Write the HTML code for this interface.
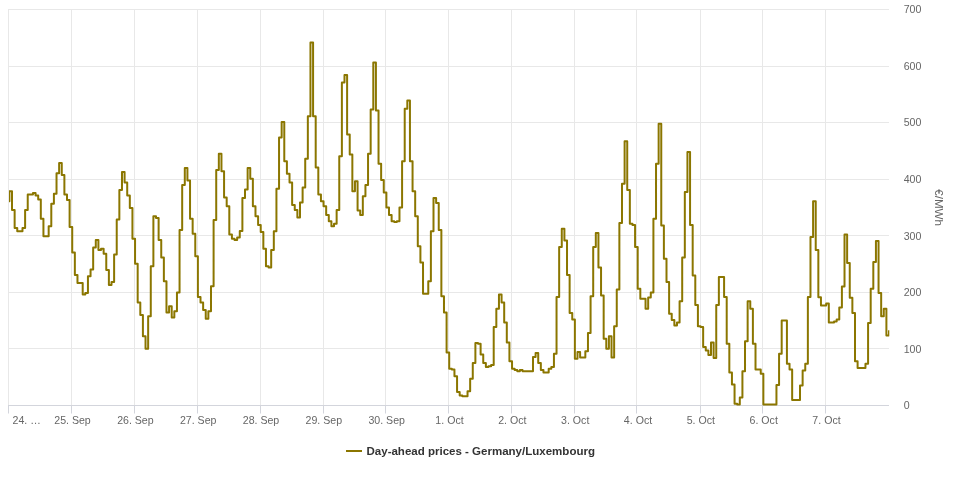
<!DOCTYPE html>
<html><head><meta charset="utf-8"><style>
html,body{margin:0;padding:0;background:#fff;}
svg{display:block;will-change:transform;font-family:"Liberation Sans",sans-serif;}
</style></head><body>
<svg width="960" height="480" viewBox="0 0 960 480">
<rect x="0" y="0" width="960" height="480" fill="#ffffff"/>
<g><path d="M 8.5 9 L 8.5 405" stroke="#e8e8e8" stroke-width="1"/><path d="M 71.5 9 L 71.5 405" stroke="#e8e8e8" stroke-width="1"/><path d="M 134.5 9 L 134.5 405" stroke="#e8e8e8" stroke-width="1"/><path d="M 197.5 9 L 197.5 405" stroke="#e8e8e8" stroke-width="1"/><path d="M 260.5 9 L 260.5 405" stroke="#e8e8e8" stroke-width="1"/><path d="M 323.5 9 L 323.5 405" stroke="#e8e8e8" stroke-width="1"/><path d="M 385.5 9 L 385.5 405" stroke="#e8e8e8" stroke-width="1"/><path d="M 448.5 9 L 448.5 405" stroke="#e8e8e8" stroke-width="1"/><path d="M 511.5 9 L 511.5 405" stroke="#e8e8e8" stroke-width="1"/><path d="M 574.5 9 L 574.5 405" stroke="#e8e8e8" stroke-width="1"/><path d="M 636.5 9 L 636.5 405" stroke="#e8e8e8" stroke-width="1"/><path d="M 700.5 9 L 700.5 405" stroke="#e8e8e8" stroke-width="1"/><path d="M 762.5 9 L 762.5 405" stroke="#e8e8e8" stroke-width="1"/><path d="M 825.5 9 L 825.5 405" stroke="#e8e8e8" stroke-width="1"/></g>
<g><path d="M 9 9.5 L 889 9.5" stroke="#e8e8e8" stroke-width="1"/><path d="M 9 66.5 L 889 66.5" stroke="#e8e8e8" stroke-width="1"/><path d="M 9 122.5 L 889 122.5" stroke="#e8e8e8" stroke-width="1"/><path d="M 9 179.5 L 889 179.5" stroke="#e8e8e8" stroke-width="1"/><path d="M 9 235.5 L 889 235.5" stroke="#e8e8e8" stroke-width="1"/><path d="M 9 292.5 L 889 292.5" stroke="#e8e8e8" stroke-width="1"/><path d="M 9 348.5 L 889 348.5" stroke="#e8e8e8" stroke-width="1"/></g>
<path d="M 9 405.5 L 889 405.5" stroke="#d3d5dc" stroke-width="1"/>
<g><path d="M 8.5 405 L 8.5 413.5" stroke="#d3d5dc" stroke-width="1"/><path d="M 71.5 405 L 71.5 413.5" stroke="#d3d5dc" stroke-width="1"/><path d="M 134.5 405 L 134.5 413.5" stroke="#d3d5dc" stroke-width="1"/><path d="M 197.5 405 L 197.5 413.5" stroke="#d3d5dc" stroke-width="1"/><path d="M 260.5 405 L 260.5 413.5" stroke="#d3d5dc" stroke-width="1"/><path d="M 323.5 405 L 323.5 413.5" stroke="#d3d5dc" stroke-width="1"/><path d="M 385.5 405 L 385.5 413.5" stroke="#d3d5dc" stroke-width="1"/><path d="M 448.5 405 L 448.5 413.5" stroke="#d3d5dc" stroke-width="1"/><path d="M 511.5 405 L 511.5 413.5" stroke="#d3d5dc" stroke-width="1"/><path d="M 574.5 405 L 574.5 413.5" stroke="#d3d5dc" stroke-width="1"/><path d="M 636.5 405 L 636.5 413.5" stroke="#d3d5dc" stroke-width="1"/><path d="M 700.5 405 L 700.5 413.5" stroke="#d3d5dc" stroke-width="1"/><path d="M 762.5 405 L 762.5 413.5" stroke="#d3d5dc" stroke-width="1"/><path d="M 825.5 405 L 825.5 413.5" stroke="#d3d5dc" stroke-width="1"/></g>
<g fill="#666666" font-size="10.6"><text x="12.5" y="423.6" text-anchor="start">24. …</text><text x="72.5" y="423.6" text-anchor="middle">25. Sep</text><text x="135.4" y="423.6" text-anchor="middle">26. Sep</text><text x="198.2" y="423.6" text-anchor="middle">27. Sep</text><text x="261.0" y="423.6" text-anchor="middle">28. Sep</text><text x="323.8" y="423.6" text-anchor="middle">29. Sep</text><text x="386.7" y="423.6" text-anchor="middle">30. Sep</text><text x="449.5" y="423.6" text-anchor="middle">1. Oct</text><text x="512.3" y="423.6" text-anchor="middle">2. Oct</text><text x="575.2" y="423.6" text-anchor="middle">3. Oct</text><text x="638.0" y="423.6" text-anchor="middle">4. Oct</text><text x="700.8" y="423.6" text-anchor="middle">5. Oct</text><text x="763.7" y="423.6" text-anchor="middle">6. Oct</text><text x="826.5" y="423.6" text-anchor="middle">7. Oct</text></g>
<g fill="#666666" font-size="10.6"><text x="903.7" y="13.3" text-anchor="start">700</text><text x="903.7" y="69.9" text-anchor="start">600</text><text x="903.7" y="126.4" text-anchor="start">500</text><text x="903.7" y="183.0" text-anchor="start">400</text><text x="903.7" y="239.6" text-anchor="start">300</text><text x="903.7" y="296.2" text-anchor="start">200</text><text x="903.7" y="352.7" text-anchor="start">100</text><text x="903.7" y="409.3" text-anchor="start">0</text></g>
<text x="935" y="207.6" fill="#666666" font-size="11.6" text-anchor="middle" transform="rotate(90 935 207.6)">€/MWh</text>
<defs><clipPath id="pc"><rect x="9" y="0" width="880.3" height="420"/></clipPath></defs>
<path clip-path="url(#pc)" d="M 9.40 201.25 L 9.40 191.25 L 12.02 191.25 L 12.02 210.00 L 14.64 210.00 L 14.64 228.00 L 17.25 228.00 L 17.25 231.25 L 19.87 231.25 L 19.87 231.25 L 22.49 231.25 L 22.49 228.00 L 25.11 228.00 L 25.11 210.00 L 27.73 210.00 L 27.73 194.50 L 30.34 194.50 L 30.34 194.50 L 32.96 194.50 L 32.96 193.00 L 35.58 193.00 L 35.58 195.50 L 38.20 195.50 L 38.20 199.50 L 40.81 199.50 L 40.81 218.75 L 43.43 218.75 L 43.43 236.25 L 46.05 236.25 L 46.05 236.25 L 48.67 236.25 L 48.67 226.25 L 51.29 226.25 L 51.29 203.75 L 53.90 203.75 L 53.90 193.75 L 56.52 193.75 L 56.52 173.25 L 59.14 173.25 L 59.14 163.00 L 61.76 163.00 L 61.76 175.00 L 64.38 175.00 L 64.38 194.50 L 66.99 194.50 L 66.99 200.00 L 69.61 200.00 L 69.61 227.00 L 72.23 227.00 L 72.23 252.50 L 74.85 252.50 L 74.85 275.00 L 77.47 275.00 L 77.47 283.00 L 80.08 283.00 L 80.08 283.00 L 82.70 283.00 L 82.70 294.50 L 85.32 294.50 L 85.32 293.00 L 87.94 293.00 L 87.94 276.25 L 90.56 276.25 L 90.56 269.50 L 93.17 269.50 L 93.17 247.50 L 95.79 247.50 L 95.79 240.00 L 98.41 240.00 L 98.41 250.00 L 101.03 250.00 L 101.03 248.75 L 103.64 248.75 L 103.64 253.75 L 106.26 253.75 L 106.26 270.00 L 108.88 270.00 L 108.88 285.00 L 111.50 285.00 L 111.50 282.00 L 114.12 282.00 L 114.12 254.50 L 116.73 254.50 L 116.73 219.50 L 119.35 219.50 L 119.35 190.00 L 121.97 190.00 L 121.97 172.00 L 124.59 172.00 L 124.59 182.50 L 127.21 182.50 L 127.21 195.50 L 129.82 195.50 L 129.82 208.00 L 132.44 208.00 L 132.44 238.75 L 135.06 238.75 L 135.06 263.75 L 137.68 263.75 L 137.68 302.50 L 140.30 302.50 L 140.30 315.00 L 142.91 315.00 L 142.91 336.25 L 145.53 336.25 L 145.53 348.75 L 148.15 348.75 L 148.15 316.25 L 150.77 316.25 L 150.77 266.25 L 153.39 266.25 L 153.39 216.25 L 156.00 216.25 L 156.00 218.00 L 158.62 218.00 L 158.62 240.00 L 161.24 240.00 L 161.24 257.50 L 163.86 257.50 L 163.86 281.25 L 166.47 281.25 L 166.47 312.50 L 169.09 312.50 L 169.09 306.25 L 171.71 306.25 L 171.71 317.50 L 174.33 317.50 L 174.33 311.25 L 176.95 311.25 L 176.95 292.50 L 179.56 292.50 L 179.56 230.00 L 182.18 230.00 L 182.18 185.00 L 184.80 185.00 L 184.80 168.00 L 187.42 168.00 L 187.42 180.50 L 190.04 180.50 L 190.04 218.75 L 192.65 218.75 L 192.65 233.75 L 195.27 233.75 L 195.27 256.25 L 197.89 256.25 L 197.89 297.00 L 200.51 297.00 L 200.51 302.50 L 203.13 302.50 L 203.13 310.00 L 205.74 310.00 L 205.74 318.75 L 208.36 318.75 L 208.36 311.25 L 210.98 311.25 L 210.98 286.25 L 213.60 286.25 L 213.60 220.00 L 216.22 220.00 L 216.22 170.00 L 218.83 170.00 L 218.83 153.75 L 221.45 153.75 L 221.45 171.25 L 224.07 171.25 L 224.07 197.50 L 226.69 197.50 L 226.69 206.25 L 229.30 206.25 L 229.30 234.50 L 231.92 234.50 L 231.92 238.75 L 234.54 238.75 L 234.54 240.00 L 237.16 240.00 L 237.16 237.50 L 239.78 237.50 L 239.78 231.00 L 242.39 231.00 L 242.39 198.00 L 245.01 198.00 L 245.01 189.50 L 247.63 189.50 L 247.63 168.00 L 250.25 168.00 L 250.25 178.75 L 252.87 178.75 L 252.87 206.25 L 255.48 206.25 L 255.48 216.25 L 258.10 216.25 L 258.10 225.00 L 260.72 225.00 L 260.72 232.00 L 263.34 232.00 L 263.34 248.75 L 265.96 248.75 L 265.96 266.25 L 268.57 266.25 L 268.57 267.50 L 271.19 267.50 L 271.19 250.00 L 273.81 250.00 L 273.81 231.25 L 276.43 231.25 L 276.43 188.75 L 279.05 188.75 L 279.05 137.50 L 281.66 137.50 L 281.66 122.00 L 284.28 122.00 L 284.28 161.25 L 286.90 161.25 L 286.90 173.75 L 289.52 173.75 L 289.52 182.50 L 292.13 182.50 L 292.13 205.00 L 294.75 205.00 L 294.75 210.00 L 297.37 210.00 L 297.37 217.50 L 299.99 217.50 L 299.99 202.50 L 302.61 202.50 L 302.61 187.50 L 305.22 187.50 L 305.22 158.75 L 307.84 158.75 L 307.84 116.25 L 310.46 116.25 L 310.46 42.50 L 313.08 42.50 L 313.08 116.25 L 315.70 116.25 L 315.70 167.50 L 318.31 167.50 L 318.31 194.50 L 320.93 194.50 L 320.93 201.25 L 323.55 201.25 L 323.55 206.25 L 326.17 206.25 L 326.17 215.00 L 328.79 215.00 L 328.79 221.25 L 331.40 221.25 L 331.40 226.25 L 334.02 226.25 L 334.02 223.75 L 336.64 223.75 L 336.64 210.00 L 339.26 210.00 L 339.26 156.25 L 341.88 156.25 L 341.88 82.50 L 344.49 82.50 L 344.49 75.00 L 347.11 75.00 L 347.11 134.50 L 349.73 134.50 L 349.73 154.50 L 352.35 154.50 L 352.35 191.25 L 354.96 191.25 L 354.96 181.25 L 357.58 181.25 L 357.58 210.50 L 360.20 210.50 L 360.20 215.00 L 362.82 215.00 L 362.82 196.25 L 365.44 196.25 L 365.44 185.00 L 368.05 185.00 L 368.05 153.75 L 370.67 153.75 L 370.67 109.50 L 373.29 109.50 L 373.29 62.50 L 375.91 62.50 L 375.91 110.50 L 378.53 110.50 L 378.53 163.75 L 381.14 163.75 L 381.14 180.00 L 383.76 180.00 L 383.76 192.50 L 386.38 192.50 L 386.38 207.50 L 389.00 207.50 L 389.00 215.00 L 391.62 215.00 L 391.62 221.25 L 394.23 221.25 L 394.23 222.00 L 396.85 222.00 L 396.85 221.25 L 399.47 221.25 L 399.47 207.50 L 402.09 207.50 L 402.09 161.25 L 404.71 161.25 L 404.71 108.75 L 407.32 108.75 L 407.32 100.50 L 409.94 100.50 L 409.94 161.25 L 412.56 161.25 L 412.56 191.25 L 415.18 191.25 L 415.18 216.25 L 417.79 216.25 L 417.79 246.25 L 420.41 246.25 L 420.41 262.50 L 423.03 262.50 L 423.03 293.75 L 425.65 293.75 L 425.65 293.75 L 428.27 293.75 L 428.27 281.25 L 430.88 281.25 L 430.88 231.25 L 433.50 231.25 L 433.50 198.00 L 436.12 198.00 L 436.12 203.00 L 438.74 203.00 L 438.74 230.00 L 441.36 230.00 L 441.36 296.25 L 443.97 296.25 L 443.97 312.50 L 446.59 312.50 L 446.59 352.50 L 449.21 352.50 L 449.21 368.75 L 451.83 368.75 L 451.83 369.50 L 454.45 369.50 L 454.45 376.25 L 457.06 376.25 L 457.06 392.00 L 459.68 392.00 L 459.68 395.50 L 462.30 395.50 L 462.30 396.25 L 464.92 396.25 L 464.92 396.25 L 467.54 396.25 L 467.54 391.25 L 470.15 391.25 L 470.15 378.75 L 472.77 378.75 L 472.77 363.00 L 475.39 363.00 L 475.39 343.00 L 478.01 343.00 L 478.01 343.75 L 480.62 343.75 L 480.62 354.50 L 483.24 354.50 L 483.24 363.00 L 485.86 363.00 L 485.86 367.00 L 488.48 367.00 L 488.48 366.25 L 491.10 366.25 L 491.10 365.00 L 493.71 365.00 L 493.71 327.00 L 496.33 327.00 L 496.33 308.75 L 498.95 308.75 L 498.95 294.50 L 501.57 294.50 L 501.57 302.50 L 504.19 302.50 L 504.19 322.50 L 506.80 322.50 L 506.80 342.50 L 509.42 342.50 L 509.42 361.25 L 512.04 361.25 L 512.04 368.75 L 514.66 368.75 L 514.66 370.00 L 517.28 370.00 L 517.28 371.25 L 519.89 371.25 L 519.89 370.00 L 522.51 370.00 L 522.51 371.25 L 525.13 371.25 L 525.13 371.25 L 527.75 371.25 L 527.75 371.25 L 530.37 371.25 L 530.37 371.25 L 532.98 371.25 L 532.98 357.00 L 535.60 357.00 L 535.60 353.00 L 538.22 353.00 L 538.22 363.00 L 540.84 363.00 L 540.84 370.00 L 543.45 370.00 L 543.45 372.50 L 546.07 372.50 L 546.07 372.50 L 548.69 372.50 L 548.69 368.75 L 551.31 368.75 L 551.31 367.00 L 553.93 367.00 L 553.93 353.75 L 556.54 353.75 L 556.54 297.00 L 559.16 297.00 L 559.16 247.00 L 561.78 247.00 L 561.78 228.75 L 564.40 228.75 L 564.40 240.50 L 567.02 240.50 L 567.02 275.00 L 569.63 275.00 L 569.63 313.00 L 572.25 313.00 L 572.25 319.50 L 574.87 319.50 L 574.87 358.75 L 577.49 358.75 L 577.49 352.00 L 580.11 352.00 L 580.11 357.50 L 582.72 357.50 L 582.72 357.50 L 585.34 357.50 L 585.34 351.25 L 587.96 351.25 L 587.96 333.00 L 590.58 333.00 L 590.58 296.25 L 593.20 296.25 L 593.20 247.00 L 595.81 247.00 L 595.81 233.00 L 598.43 233.00 L 598.43 267.50 L 601.05 267.50 L 601.05 295.50 L 603.67 295.50 L 603.67 338.75 L 606.28 338.75 L 606.28 348.75 L 608.90 348.75 L 608.90 336.25 L 611.52 336.25 L 611.52 357.50 L 614.14 357.50 L 614.14 326.25 L 616.76 326.25 L 616.76 289.50 L 619.37 289.50 L 619.37 223.00 L 621.99 223.00 L 621.99 183.75 L 624.61 183.75 L 624.61 141.25 L 627.23 141.25 L 627.23 190.00 L 629.85 190.00 L 629.85 223.75 L 632.46 223.75 L 632.46 225.00 L 635.08 225.00 L 635.08 247.00 L 637.70 247.00 L 637.70 288.75 L 640.32 288.75 L 640.32 298.75 L 642.94 298.75 L 642.94 298.75 L 645.55 298.75 L 645.55 308.75 L 648.17 308.75 L 648.17 297.50 L 650.79 297.50 L 650.79 292.50 L 653.41 292.50 L 653.41 218.75 L 656.03 218.75 L 656.03 163.75 L 658.64 163.75 L 658.64 123.75 L 661.26 123.75 L 661.26 225.50 L 663.88 225.50 L 663.88 258.75 L 666.50 258.75 L 666.50 282.00 L 669.11 282.00 L 669.11 313.75 L 671.73 313.75 L 671.73 320.00 L 674.35 320.00 L 674.35 325.50 L 676.97 325.50 L 676.97 322.50 L 679.59 322.50 L 679.59 301.25 L 682.20 301.25 L 682.20 257.50 L 684.82 257.50 L 684.82 192.00 L 687.44 192.00 L 687.44 152.00 L 690.06 152.00 L 690.06 225.00 L 692.68 225.00 L 692.68 275.50 L 695.29 275.50 L 695.29 305.00 L 697.91 305.00 L 697.91 326.25 L 700.53 326.25 L 700.53 327.00 L 703.15 327.00 L 703.15 347.00 L 705.77 347.00 L 705.77 350.50 L 708.38 350.50 L 708.38 355.00 L 711.00 355.00 L 711.00 342.50 L 713.62 342.50 L 713.62 358.00 L 716.24 358.00 L 716.24 305.00 L 718.86 305.00 L 718.86 277.00 L 721.47 277.00 L 721.47 277.00 L 724.09 277.00 L 724.09 297.00 L 726.71 297.00 L 726.71 343.75 L 729.33 343.75 L 729.33 372.50 L 731.94 372.50 L 731.94 384.50 L 734.56 384.50 L 734.56 403.75 L 737.18 403.75 L 737.18 404.50 L 739.80 404.50 L 739.80 397.50 L 742.42 397.50 L 742.42 371.25 L 745.03 371.25 L 745.03 341.25 L 747.65 341.25 L 747.65 301.25 L 750.27 301.25 L 750.27 308.75 L 752.89 308.75 L 752.89 343.75 L 755.51 343.75 L 755.51 369.50 L 758.12 369.50 L 758.12 369.50 L 760.74 369.50 L 760.74 373.75 L 763.36 373.75 L 763.36 404.50 L 765.98 404.50 L 765.98 404.50 L 768.60 404.50 L 768.60 404.50 L 771.21 404.50 L 771.21 404.50 L 773.83 404.50 L 773.83 404.50 L 776.45 404.50 L 776.45 385.00 L 779.07 385.00 L 779.07 353.75 L 781.69 353.75 L 781.69 320.50 L 784.30 320.50 L 784.30 320.50 L 786.92 320.50 L 786.92 363.75 L 789.54 363.75 L 789.54 369.50 L 792.16 369.50 L 792.16 400.00 L 794.77 400.00 L 794.77 400.00 L 797.39 400.00 L 797.39 400.00 L 800.01 400.00 L 800.01 385.60 L 802.63 385.60 L 802.63 370.60 L 805.25 370.60 L 805.25 363.75 L 807.86 363.75 L 807.86 296.90 L 810.48 296.90 L 810.48 236.90 L 813.10 236.90 L 813.10 201.25 L 815.72 201.25 L 815.72 250.00 L 818.34 250.00 L 818.34 297.25 L 820.95 297.25 L 820.95 305.60 L 823.57 305.60 L 823.57 305.60 L 826.19 305.60 L 826.19 303.50 L 828.81 303.50 L 828.81 322.50 L 831.43 322.50 L 831.43 322.50 L 834.04 322.50 L 834.04 321.50 L 836.66 321.50 L 836.66 319.40 L 839.28 319.40 L 839.28 307.50 L 841.90 307.50 L 841.90 286.50 L 844.52 286.50 L 844.52 234.40 L 847.13 234.40 L 847.13 263.10 L 849.75 263.10 L 849.75 297.75 L 852.37 297.75 L 852.37 313.10 L 854.99 313.10 L 854.99 361.25 L 857.60 361.25 L 857.60 368.10 L 860.22 368.10 L 860.22 368.10 L 862.84 368.10 L 862.84 368.10 L 865.46 368.10 L 865.46 363.75 L 868.08 363.75 L 868.08 323.10 L 870.69 323.10 L 870.69 288.75 L 873.31 288.75 L 873.31 261.90 L 875.93 261.90 L 875.93 241.00 L 878.55 241.00 L 878.55 293.10 L 881.17 293.10 L 881.17 316.25 L 883.78 316.25 L 883.78 308.75 L 886.40 308.75 L 886.40 335.60 L 889.02 335.60 L 889.02 331" fill="none" stroke="#8b7600" stroke-width="2" stroke-linejoin="round" stroke-linecap="round"/>
<path d="M 346 451 L 362 451" stroke="#8b7600" stroke-width="2"/>
<text x="366.5" y="454.6" fill="#333333" font-size="11.52" font-weight="bold">Day-ahead prices - Germany/Luxembourg</text>
</svg>
</body></html>
